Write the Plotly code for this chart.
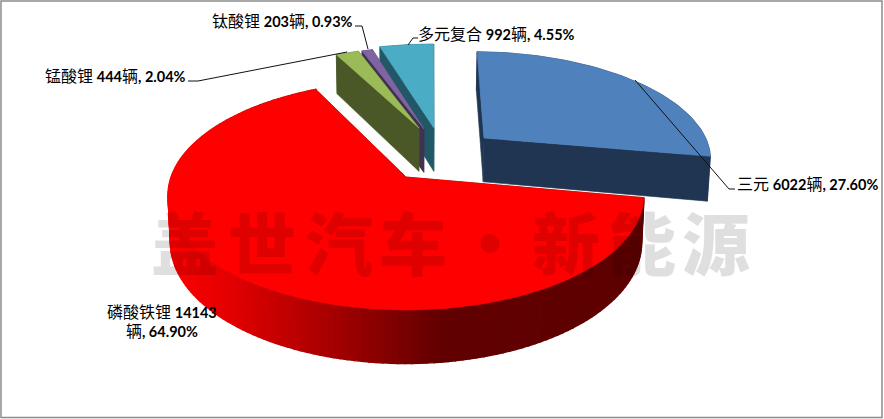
import math
import plotly.graph_objects as go

# ---- data ----
categories = ["三元", "磷酸铁锂", "锰酸锂", "钛酸锂", "多元复合"]
units = [6022, 14143, 444, 203, 992]
shares = [27.60, 64.90, 2.04, 0.93, 4.55]

# ---- style ----
top_colors = ["#4F81BD", "#FF0000", "#9BBB59", "#8064A2", "#4BACC6"]
side_colors = ["#1F3552", "#5E0000", "#4A5726", "#3F3151", "#205867"]
apexes = [(484, 138), (406, 177), (419, 128), (424, 129), (434, 128)]
radius_scale = [1.0, 1.0, 0.955, 0.97, 1.0]
first_angle = 1.0
CX, CY = 406, 177
A, B, K = 234.9, 111.6, 0.161
H, Q = 46, 0.99
draw_order = [0, 4, 3, 2, 1]
red_stops = [(168, (255, 0, 0)), (230, (226, 0, 0)), (300, (184, 0, 0)),
             (370, (142, 0, 0)), (440, (98, 0, 0)), (650, (94, 0, 0))]


def project(u, v, bottom=False):
    s = 1 / (1 - K * v)
    x, y = A * u * s, B * v * s
    if bottom:
        return CX + x * Q, CY + y * Q + H * s
    return CX + x, CY + y


def unproject(x, y):
    dy = y - CY
    v = dy / (B + K * dy)
    return (x - CX) * (1 - K * v) / A, v


def red_shade(x):
    for (x0, c0), (x1, c1) in zip(red_stops, red_stops[1:]):
        if x <= x1:
            f = max(0, (x - x0) / (x1 - x0))
            return "rgb(%d,%d,%d)" % tuple(a + (b - a) * f for a, b in zip(c0, c1))
    return "rgb(94,0,0)"


fig = go.Figure()


def poly(points, color, width=0.6):
    fig.add_trace(go.Scatter(
        x=[p[0] for p in points] + [points[0][0]],
        y=[p[1] for p in points] + [points[0][1]],
        mode="lines", fill="toself", fillcolor=color,
        line=dict(color=color, width=width),
        hoverinfo="skip", showlegend=False))


# slice angles come from the shares
spans = []
angle = first_angle
for sh in shares:
    delta = sh / sum(shares) * 360
    spans.append((angle, angle + delta))
    angle += delta

for i in draw_order:
    a0, a1 = spans[i]
    cu, cv = unproject(*apexes[i])
    r = radius_scale[i]
    n = max(4, int((a1 - a0) / 1.5))
    arc = []
    for j in range(n + 1):
        t = math.radians(a0 + (a1 - a0) * j / n)
        arc.append((cu + r * math.sin(t), cv - r * math.cos(t)))
    top = [project(u, v) for u, v in arc]
    bot = [project(u, v, True) for u, v in arc]
    ap_t, ap_b = project(cu, cv), project(cu, cv, True)
    # outer wall
    if i == 1:
        for j in range(n):
            xm = (top[j][0] + top[j + 1][0]) / 2
            poly([top[j], top[j + 1], bot[j + 1], bot[j]], red_shade(xm), 1.4)
    else:
        poly(top + bot[::-1], side_colors[i])
    # cut faces
    poly([ap_t, top[0], bot[0], ap_b], side_colors[i])
    poly([ap_t, top[-1], bot[-1], ap_b], side_colors[i])
    # upper face
    poly([ap_t] + top, top_colors[i])

# leader lines
leaders = [
    ([188, 198, 347], [81, 81, 52]),
    ([355, 362, 368], [26, 26, 49]),
    ([418, 413, 408], [38, 38, 45]),
    ([735, 729, 635], [189, 189, 80]),
]
for lx, ly in leaders:
    fig.add_trace(go.Scatter(x=lx, y=ly, mode="lines",
                             line=dict(color="#111111", width=1),
                             hoverinfo="skip", showlegend=False))


def lab(name, n, p):
    return (f'<span style="font-size:16px">{name}</span> <b>{n}</b>'
            f'<span style="font-size:16px">辆</span><b>, {p:.2f}%</b>')


ann = []
label_pos = [(735, 183, "left"), (None, None, None), (43, 75, "left"), (210, 20, "left"), (416, 33, "left")]
for i, (x, y, al) in enumerate(label_pos):
    if x is None:
        continue
    ann.append(dict(x=x, y=y, xanchor=al, yanchor="middle", showarrow=False,
                    text=lab(categories[i], units[i], shares[i])))
ann.append(dict(x=162, y=321, xanchor="center", yanchor="middle", showarrow=False, align="center",
                text=(f'<span style="font-size:16px">{categories[1]}</span> <b>{units[1]}</b><br>'
                      f'<span style="font-size:16px">辆</span><b>, {shares[1]:.2f}%</b>')))

# watermark
wm_chars = ["盖", "世", "汽", "车", "·", "新", "能", "源"]
wm_x = [185, 262, 339, 413, 490, 566, 642, 716]
for ch, x in zip(wm_chars, wm_x):
    ann.append(dict(x=x, y=240, xanchor="center", yanchor="middle", showarrow=False, text=ch,
                    font=dict(family="Noto Sans CJK SC", size=68, weight=900, color="rgba(0,0,0,0.125)")))

fig.update_layout(
    width=884, height=419, margin=dict(l=0, r=0, t=0, b=0),
    paper_bgcolor="white", plot_bgcolor="white", showlegend=False,
    font=dict(family="Lato, Noto Sans CJK SC", size=14.5, color="#000000"),
    xaxis=dict(visible=False, range=[0, 884], fixedrange=True),
    yaxis=dict(visible=False, range=[419, 0], fixedrange=True),
    annotations=ann,
    shapes=[dict(type="rect", x0=1, y0=1, x1=882, y1=417.5, line=dict(color="#8C8C8C", width=1.5))],
)
fig.write_html("out.html", config=dict(displayModeBar=False),
               post_script="document.body.style.margin='0';document.documentElement.style.overflow='hidden';")
